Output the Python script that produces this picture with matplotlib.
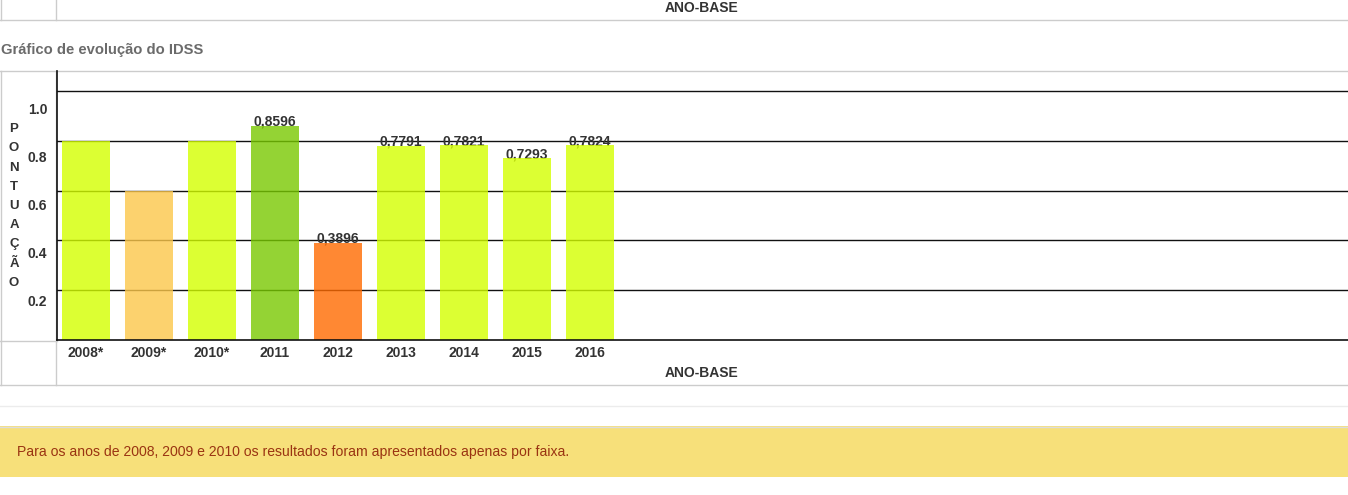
import matplotlib
matplotlib.use("Agg")
import matplotlib.pyplot as plt
from matplotlib.lines import Line2D
from matplotlib.patches import Rectangle
from matplotlib.transforms import ScaledTranslation
import numpy as np

# IDSS por ano-base (2008-2010 apenas por faixa)
anos = ["2008*", "2009*", "2010*", "2011", "2012", "2013", "2014", "2015", "2016"]
idss = [0.8, 0.6, 0.8, 0.8596, 0.3896, 0.7791, 0.7821, 0.7293, 0.7824]
rotulos = [None, None, None, "0,8596", "0,3896", "0,7791", "0,7821", "0,7293", "0,7824"]
cores = ["#d4ff00", "#fcc74a", "#d4ff00", "#79c901", "#ff6a00",
         "#d4ff00", "#d4ff00", "#d4ff00", "#d4ff00"]
yticks = [0.2, 0.4, 0.6, 0.8, 1.0]

plt.rcParams['font.family'] = ['Liberation Sans', 'DejaVu Sans']

W, H = 1348, 495
DPI = 100
fig = plt.figure(figsize=(W / DPI, H / DPI), dpi=DPI)

def fx(x):
    return x / W

def fy(y):
    return 1 - y / H

def hline(y, x0=0, x1=W, color="#cccccc", lw=1.0):
    fig.add_artist(Line2D([fx(x0), fx(x1)], [fy(y), fy(y)], transform=fig.transFigure,
                          color=color, lw=lw, zorder=0))

def vline(x, y0, y1, color="#cccccc", lw=1.0):
    fig.add_artist(Line2D([fx(x), fx(x)], [fy(y0), fy(y1)], transform=fig.transFigure,
                          color=color, lw=lw, zorder=0))

# restos da tabela de cima
hline(19.5)
vline(0.5, 0, 19.5)
vline(56.5, 0, 19.5)
fig.text(fx(702), fy(8), "ANO-BASE", ha="center", va="center",
         fontsize=10, fontweight="bold", color="#333333")

# titulo
fig.text(fx(1), fy(50), "Gráfico de evolução do IDSS", ha="left", va="center",
         fontsize=10.6, fontweight="bold", color="#6b6b6b")

# moldura da tabela do grafico
hline(70.5)
hline(384.5)
hline(340.5, 0, 57)
vline(0.5, 70.5, 384.5)
vline(56.5, 70.5, 384.5)
hline(405.5, color="#ececec")

# eixo
ax = fig.add_axes([fx(57), fy(340), 1 - fx(57), (340 - 71) / H])
ax.patch.set_visible(False)
x = np.arange(len(anos))
bars = ax.bar(x, idss, width=0.762, color=cores, alpha=0.8, zorder=3)

for xi, v, r in zip(x, idss, rotulos):
    if r:
        ax.text(xi, v, r, ha="center", va="baseline", fontsize=10,
                fontweight="bold", color="#333333", zorder=2)

ax.set_xlim(-0.46, 20.03)
ax.set_ylim(0, 1.08)
ax.set_yticks(yticks)
ax.set_yticklabels([f"{t:.1f}" for t in yticks])
ax.set_xticks(x)
ax.set_xticklabels(anos)
ax.tick_params(length=0, labelsize=10, colors="#333333")
ax.tick_params(axis="x", pad=4.5)
ax.tick_params(axis="y", pad=7)
for lab in ax.get_xticklabels() + ax.get_yticklabels():
    lab.set_fontweight("bold")

# os rotulos do eixo y ficam um pouco abaixo das linhas
for i, tick in enumerate(ax.yaxis.get_major_ticks()):
    off = ScaledTranslation(0, -(10 + 2 * i) / DPI, fig.dpi_scale_trans)
    tick.label1.set_transform(tick.label1.get_transform() + off)

ax.grid(axis="y", color="#111111", lw=1.0, zorder=1)
ax.set_axisbelow(True)
for s in ["top", "right"]:
    ax.spines[s].set_visible(False)
for s in ["left", "bottom"]:
    ax.spines[s].set_color("#111111")
    ax.spines[s].set_linewidth(1.2)
    ax.spines[s].set_zorder(4)

# PONTUAÇÃO na vertical, letra por letra
fig.text(fx(14), fy(206), "\n".join("PONTUAÇÃO"), ha="center", va="center",
         fontsize=9.5, fontweight="bold", color="#333333", linespacing=1.8)

fig.text(fx(702), fy(373), "ANO-BASE", ha="center", va="center",
         fontsize=10, fontweight="bold", color="#333333")

# caixa de aviso
fig.add_artist(Rectangle((0, fy(477)), 1, (477 - 426) / H, transform=fig.transFigure,
                         facecolor="#f7e07a", edgecolor="none", zorder=0))
hline(426.5, color="#dddddd")
fig.text(fx(17), fy(452), "Para os anos de 2008, 2009 e 2010 os resultados foram apresentados apenas por faixa.",
         ha="left", va="center", fontsize=10.1, color="#9a3412")

fig.savefig("out.png", dpi=DPI)
